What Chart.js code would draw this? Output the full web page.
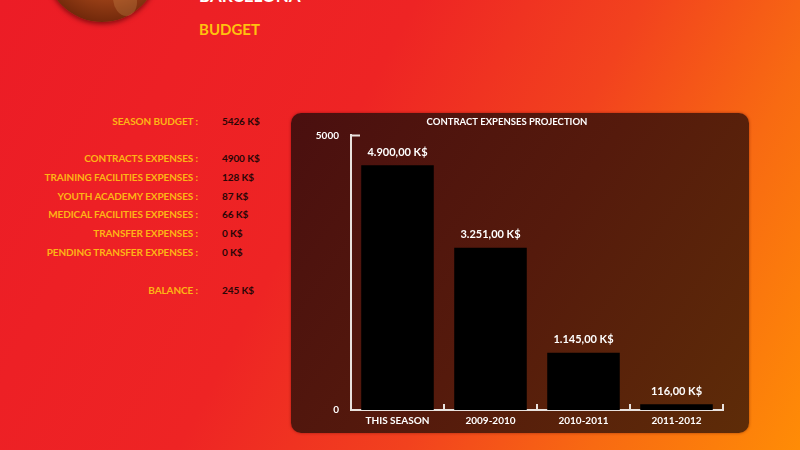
<!DOCTYPE html>
<html lang="en">

<head>
  <meta charset="UTF-8">
  <title>Budget</title>
  <style>
    body {
      margin: 0;
      width: 800px;
      height: 450px;
      overflow: hidden;
      position: relative;
      font-family: Lato, "Open Sans", sans-serif;
      background: linear-gradient(118deg, #ec1c26 0%, #ee2424 40%, #f2421e 62%, #f86a12 80%, #ff8c06 100%);
    }

    .logo {
      position: absolute;
      left: 45px;
      top: -92px;
      width: 114px;
      height: 114px;
      border-radius: 50%;
      background: radial-gradient(circle at 55% 35%, #c8621e 0%, #a4461a 45%, #6a2408 82%, #3a1204 100%);
      box-shadow: 0 2px 5px rgba(60, 0, 0, 0.6);
    }

    .logo::after {
      content: "";
      position: absolute;
      left: 68px;
      top: 76px;
      width: 24px;
      height: 32px;
      border-radius: 40% 50% 45% 60%;
      background: rgba(220, 160, 90, 0.25);
    }

    .club {
      position: absolute;
      left: 199px;
      top: -15px;
      color: #fff;
      font-weight: bold;
      font-size: 17px;
    }

    .page-title {
      position: absolute;
      left: 199px;
      top: 20px;
      color: #ffc20e;
      font-weight: bold;
      font-size: 15px;
    }

    .row {
      position: absolute;
      left: 0;
      width: 800px;
      height: 12px;
      font-size: 10px;
      font-weight: bold;
      letter-spacing: -0.1px;
      line-height: 12px;
    }

    .row .lbl {
      position: absolute;
      right: 602px;
      white-space: nowrap;
      color: #fdb515;
    }

    .row .val {
      position: absolute;
      left: 222px;
      white-space: nowrap;
      color: #2a0606;
    }

    .panel {
      position: absolute;
      left: 291px;
      top: 113px;
      width: 458px;
      height: 320px;
      border-radius: 10px;
      background: linear-gradient(125deg, #4a0f0f 0%, #551a0c 50%, #5e2c08 100%);
      box-shadow: 0 0 3px rgba(80, 0, 0, 0.5);
    }
  </style>
</head>

<body>
  <div class="logo"></div>
  <div class="club">BARCELONA</div>
  <div class="page-title">BUDGET</div>
  <div id="budgetList"></div>

  <div class="panel">
    <canvas id="projectionChart" width="458" height="320"></canvas>
  </div>

  <script src="https://cdn.jsdelivr.net/npm/chart.js"></script>
  <script>
    // budget list on the left
    const budgetLabels = ['SEASON BUDGET :', 'CONTRACTS EXPENSES :', 'TRAINING FACILITIES EXPENSES :',
      'YOUTH ACADEMY EXPENSES :', 'MEDICAL FACILITIES EXPENSES :', 'TRANSFER EXPENSES :',
      'PENDING TRANSFER EXPENSES :', 'BALANCE :'];
    const budgetValues = ['5426 K$', '4900 K$', '128 K$', '87 K$', '66 K$', '0 K$', '0 K$', '245 K$'];
    const budgetRowY = [121, 158, 177, 196, 214, 233, 252, 290];

    // chart data
    const seasons = ['THIS SEASON', '2009-2010', '2010-2011', '2011-2012'];
    const contractExpenses = [4900, 3251, 1145, 116];
    const yAxisMax = 5500;
    const yTickLabels = ['0', '5000'];

    const list = document.getElementById('budgetList');
    budgetLabels.forEach((label, i) => {
      const row = document.createElement('div');
      row.className = 'row';
      row.style.top = (budgetRowY[i] - 6) + 'px';
      row.innerHTML = `<span class="lbl">${label}</span><span class="val">${budgetValues[i]}</span>`;
      list.appendChild(row);
    });

    function formatKs(v) {
      const parts = v.toFixed(2).split('.');
      const whole = parts[0].replace(/\B(?=(\d{3})+(?!\d))/g, '.');
      return whole + ',' + parts[1] + ' K$';
    }

    const axisColor = '#e9e2de';
    const font = { family: 'Lato, "Open Sans", sans-serif', size: 10, weight: 'bold' };

    // value labels above bars + inward axis ticks
    const decorPlugin = {
      id: 'decor',
      afterDatasetsDraw(chart) {
        const ctx = chart.ctx;
        const meta = chart.getDatasetMeta(0);
        ctx.save();
        ctx.fillStyle = '#ffffff';
        ctx.font = 'bold 11px Lato, "Open Sans", sans-serif';
        ctx.textAlign = 'center';
        ctx.textBaseline = 'middle';
        meta.data.forEach((bar, i) => {
          ctx.fillText(formatKs(contractExpenses[i]), bar.x, bar.y - 13);
        });

        const x = chart.scales.x;
        const y = chart.scales.y;
        ctx.strokeStyle = axisColor;
        ctx.lineWidth = 2;
        ctx.beginPath();
        // top tick of the y axis
        const top = y.getPixelForValue(yAxisMax);
        ctx.moveTo(x.left, top);
        ctx.lineTo(x.left + 9, top);
        // category boundary ticks on the x axis
        const step = x.getPixelForValue(1) - x.getPixelForValue(0);
        for (let i = 0; i < seasons.length; i++) {
          const px = x.getPixelForValue(i) + step / 2;
          ctx.moveTo(px, y.bottom);
          ctx.lineTo(px, y.bottom - 6);
        }
        ctx.stroke();
        ctx.restore();
      }
    };

    new Chart(document.getElementById('projectionChart'), {
      type: 'bar',
      data: {
        labels: seasons,
        datasets: [{
          label: 'Contract expenses',
          data: contractExpenses,
          backgroundColor: '#000000',
          borderWidth: 0,
          barPercentage: 0.78,
          categoryPercentage: 1
        }]
      },
      options: {
        responsive: false,
        animation: false,
        layout: { padding: { left: 0, right: 26, top: 0, bottom: 0 } },
        plugins: {
          legend: { display: false },
          tooltip: { enabled: false },
          title: {
            display: true,
            text: 'CONTRACT EXPENSES PROJECTION',
            color: '#ffffff',
            font: { family: font.family, size: 9.5, weight: 'bold' },
            padding: { top: 3, bottom: 8 }
          }
        },
        scales: {
          x: {
            grid: { display: false, drawTicks: false },
            border: { display: true, color: axisColor, width: 2 },
            ticks: { color: '#ffffff', font: font, padding: 5, maxRotation: 0 },
            afterFit(scale) { scale.height = 23; }
          },
          y: {
            min: 0,
            max: yAxisMax,
            grid: { display: false, drawTicks: false },
            border: { display: true, color: axisColor, width: 2 },
            afterBuildTicks(scale) {
              scale.ticks = [{ value: 0 }, { value: yAxisMax }];
            },
            ticks: {
              color: '#ffffff',
              font: font,
              padding: 12,
              callback: (value, index) => yTickLabels[index]
            },
            afterFit(scale) { scale.width = 60; }
          }
        }
      },
      plugins: [decorPlugin]
    });
  </script>
</body>

</html>
